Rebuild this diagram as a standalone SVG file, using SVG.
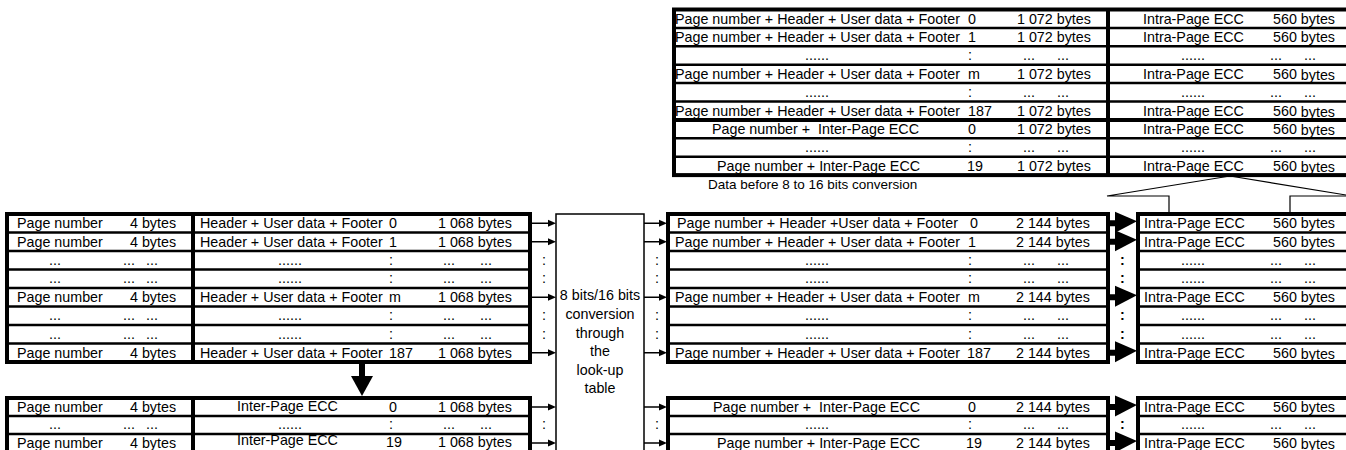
<svg xmlns="http://www.w3.org/2000/svg" width="1346" height="450" viewBox="0 0 1346 450">
<style>
text{font-family:"Liberation Sans",Arial,sans-serif;font-size:14.3px;fill:#000}
.c{text-anchor:middle}
.b{font-weight:bold}
.bd{fill:none;stroke:#000;stroke-width:4}
.sp{stroke:#000;stroke-width:2.5}
.tk{stroke:#000;stroke-width:4}
.ln{stroke:#000;stroke-width:1.5;fill:none}
.ah{fill:#000}
</style>
<rect width="1346" height="450" fill="#fff"/>

<!-- Top table -->
<g id="top-table">
<rect class="bd" x="674" y="9.5" width="676" height="165.6"/>
<line class="tk" x1="1108" y1="9.5" x2="1108" y2="175.1"/>
<line class="sp" x1="674" y1="27.9" x2="1346" y2="27.9"/>
<line class="sp" x1="674" y1="46.3" x2="1346" y2="46.3"/>
<line class="sp" x1="674" y1="64.7" x2="1346" y2="64.7"/>
<line class="sp" x1="674" y1="83.1" x2="1346" y2="83.1"/>
<line class="sp" x1="674" y1="101.5" x2="1346" y2="101.5"/>
<line class="tk" x1="674" y1="119.9" x2="1346" y2="119.9"/>
<line class="sp" x1="674" y1="138.3" x2="1346" y2="138.3"/>
<line class="sp" x1="674" y1="156.7" x2="1346" y2="156.7"/>
<text x="675" y="23.5">Page number + Header + User data + Footer</text><text x="968" y="23.5">0</text><text x="1017" y="23.5">1 072 bytes</text><text x="1143" y="23.5">Intra-Page ECC</text><text x="1273" y="23.5">560 bytes</text>
<text x="675" y="41.9">Page number + Header + User data + Footer</text><text x="968" y="41.9">1</text><text x="1017" y="41.9">1 072 bytes</text><text x="1143" y="41.9">Intra-Page ECC</text><text x="1273" y="41.9">560 bytes</text>
<text class="c" x="817" y="59.5">......</text><text x="968" y="59.5">:</text><text x="1023" y="59.5">...</text><text x="1057" y="59.5">...</text><text class="c" x="1193" y="59.5">......</text><text x="1270" y="59.5">...</text><text x="1304" y="59.5">...</text>
<text x="675" y="78.7">Page number + Header + User data + Footer</text><text x="968" y="78.7">m</text><text x="1017" y="78.7">1 072 bytes</text><text x="1143" y="78.7">Intra-Page ECC</text><text x="1273" y="78.7">560 <tspan dy="1">bytes</tspan></text>
<text class="c" x="817" y="96.5">......</text><text x="968" y="96.5">:</text><text x="1023" y="96.5">...</text><text x="1057" y="96.5">...</text><text class="c" x="1193" y="96.5">......</text><text x="1270" y="96.5">...</text><text x="1304" y="96.5">...</text>
<text x="675" y="115.5">Page number + Header + User data + Footer</text><text x="968" y="115.5">187</text><text x="1017" y="115.5">1 072 bytes</text><text x="1143" y="115.5">Intra-Page ECC</text><text x="1273" y="115.5">560 <tspan dy="1">bytes</tspan></text>
<text x="712" y="133.9" xml:space="preserve">Page number +  Inter-Page ECC</text><text x="968" y="133.9">0</text><text x="1017" y="133.9">1 072 bytes</text><text x="1143" y="133.9">Intra-Page ECC</text><text x="1273" y="133.9">560 <tspan dy="1">bytes</tspan></text>
<text class="c" x="817" y="151.7">......</text><text x="968" y="151.7">:</text><text x="1023" y="151.7">...</text><text x="1057" y="151.7">...</text><text class="c" x="1193" y="151.7">......</text><text x="1270" y="151.7">...</text><text x="1304" y="151.7">...</text>
<text x="717" y="170.7">Page number + Inter-Page ECC</text><text x="967" y="170.7">19</text><text x="1017" y="170.7">1 072 bytes</text><text x="1143" y="170.7">Intra-Page ECC</text><text x="1273" y="170.7">560 <tspan dy="1">bytes</tspan></text>
</g>

<g id="caption">
<text x="708" y="189" style="font-size:13.5px">Data before 8 to 16 bits conversion</text>
</g>

<!-- Left table -->
<g id="left-table">
<rect class="bd" x="7" y="214" width="523" height="148"/>
<line class="tk" x1="193" y1="214" x2="193" y2="362"/>
<line class="sp" x1="7" y1="232.5" x2="530" y2="232.5"/>
<line class="sp" x1="7" y1="251" x2="530" y2="251"/>
<line class="sp" x1="7" y1="269.5" x2="530" y2="269.5"/>
<line class="sp" x1="7" y1="288" x2="530" y2="288"/>
<line class="sp" x1="7" y1="306.5" x2="530" y2="306.5"/>
<line class="sp" x1="7" y1="325" x2="530" y2="325"/>
<line class="sp" x1="7" y1="343.5" x2="530" y2="343.5"/>
<text x="17" y="228">Page number</text><text x="130" y="228">4 bytes</text><text x="200" y="228">Header + User data + Footer</text><text x="389" y="228">0</text><text x="438" y="228">1 068 bytes</text>
<text x="17" y="246.5">Page number</text><text x="130" y="246.5">4 bytes</text><text x="200" y="246.5">Header + User data + Footer</text><text x="389" y="246.5">1</text><text x="438" y="246.5">1 068 bytes</text>
<text class="c" x="55" y="264.5">...</text><text x="123" y="264.5">...</text><text x="146" y="264.5">...</text><text class="c" x="290" y="264.5">......</text><text x="389" y="264.5">:</text><text x="443" y="264.5">...</text><text x="480" y="264.5">...</text>
<text class="c" x="55" y="283">...</text><text x="123" y="283">...</text><text x="146" y="283">...</text><text class="c" x="290" y="283">......</text><text x="389" y="283">:</text><text x="443" y="283">...</text><text x="480" y="283">...</text>
<text x="17" y="302">Page number</text><text x="130" y="302">4 bytes</text><text x="200" y="302">Header + User data + Footer</text><text x="389" y="302">m</text><text x="438" y="302">1 068 bytes</text>
<text class="c" x="55" y="320">...</text><text x="123" y="320">...</text><text x="146" y="320">...</text><text class="c" x="290" y="320">......</text><text x="389" y="320">:</text><text x="443" y="320">...</text><text x="480" y="320">...</text>
<text class="c" x="55" y="338.5">...</text><text x="123" y="338.5">...</text><text x="146" y="338.5">...</text><text class="c" x="290" y="338.5">......</text><text x="389" y="338.5">:</text><text x="443" y="338.5">...</text><text x="480" y="338.5">...</text>
<text x="17" y="357.5">Page number</text><text x="130" y="357.5">4 bytes</text><text x="200" y="357.5">Header + User data + Footer</text><text x="389" y="357.5">187</text><text x="438" y="357.5">1 068 bytes</text>
</g>

<!-- Bottom left table -->
<g id="bottom-left-table">
<rect class="bd" x="7" y="398" width="523" height="56"/>
<line class="tk" x1="193" y1="398" x2="193" y2="452"/>
<line class="sp" x1="7" y1="416" x2="530" y2="416"/>
<line class="sp" x1="7" y1="434" x2="530" y2="434"/>
<text x="17" y="412">Page number</text><text x="130" y="412">4 bytes</text><text x="237" y="411">Inter-Page ECC</text><text x="389" y="412">0</text><text x="438" y="412">1 068 bytes</text>
<text class="c" x="55" y="429">...</text><text x="123" y="429">...</text><text x="146" y="429">...</text><text class="c" x="290" y="429">......</text><text x="389" y="429">:</text><text x="443" y="429">...</text><text x="480" y="429">...</text>
<text x="17" y="448">Page number</text><text x="130" y="448">4 bytes</text><text x="237" y="445">Inter-Page ECC</text><text x="386" y="447">19</text><text x="438" y="447">1 068 bytes</text>
</g>

<!-- Conversion box -->
<g id="conversion">
<rect class="ln" x="556" y="214" width="88" height="250"/>
<text class="c" x="600" y="300">8 bits/16 bits</text>
<text class="c" x="600" y="319">conversion</text>
<text class="c" x="600" y="337.5">through</text>
<text class="c" x="600" y="356">the</text>
<text class="c" x="600" y="374.5">look-up</text>
<text class="c" x="600" y="393">table</text>
</g>

<!-- Middle table -->
<g id="middle-table">
<rect class="bd" x="668" y="214" width="440" height="148"/>
<line class="sp" x1="668" y1="232.5" x2="1108" y2="232.5"/>
<line class="sp" x1="668" y1="251" x2="1108" y2="251"/>
<line class="sp" x1="668" y1="269.5" x2="1108" y2="269.5"/>
<line class="sp" x1="668" y1="288" x2="1108" y2="288"/>
<line class="sp" x1="668" y1="306.5" x2="1108" y2="306.5"/>
<line class="sp" x1="668" y1="325" x2="1108" y2="325"/>
<line class="sp" x1="668" y1="343.5" x2="1108" y2="343.5"/>
<text x="677" y="228">Page number + Header +User data + Footer</text><text x="970" y="228">0</text><text x="1016" y="228">2 144 bytes</text>
<text x="675" y="246.5">Page number + Header + User data + Footer</text><text x="968" y="246.5">1</text><text x="1016" y="246.5">2 144 bytes</text>
<text class="c" x="817" y="264.5">......</text><text x="968" y="264.5">:</text><text x="1023" y="264.5">...</text><text x="1057" y="264.5">...</text>
<text class="c" x="817" y="283">......</text><text x="968" y="283">:</text><text x="1023" y="283">...</text><text x="1057" y="283">...</text>
<text x="675" y="302">Page number + Header + User data + Footer</text><text x="968" y="302">m</text><text x="1016" y="302">2 144 bytes</text>
<text class="c" x="817" y="320">......</text><text x="968" y="320">:</text><text x="1023" y="320">...</text><text x="1057" y="320">...</text>
<text class="c" x="817" y="338.5">......</text><text x="968" y="338.5">:</text><text x="1023" y="338.5">...</text><text x="1057" y="338.5">...</text>
<text x="675" y="357.5">Page number + Header + User data + Footer</text><text x="967" y="357.5">187</text><text x="1016" y="357.5">2 144 bytes</text>
</g>

<!-- Bottom middle table -->
<g id="bottom-middle-table">
<rect class="bd" x="668" y="398" width="440" height="56"/>
<line class="sp" x1="668" y1="416" x2="1108" y2="416"/>
<line class="sp" x1="668" y1="434" x2="1108" y2="434"/>
<text x="713" y="412" xml:space="preserve">Page number +  Inter-Page ECC</text><text x="968" y="412">0</text><text x="1016" y="412">2 144 bytes</text>
<text class="c" x="817" y="429">......</text><text x="968" y="429">:</text><text x="1023" y="429">...</text><text x="1057" y="429">...</text>
<text x="717" y="448">Page number + Inter-Page ECC</text><text x="966" y="448">19</text><text x="1016" y="448">2 144 bytes</text>
</g>

<!-- ECC table -->
<g id="ecc-table">
<rect class="bd" x="1138" y="214" width="212" height="148"/>
<line class="sp" x1="1138" y1="232.5" x2="1346" y2="232.5"/>
<line class="sp" x1="1138" y1="251" x2="1346" y2="251"/>
<line class="sp" x1="1138" y1="269.5" x2="1346" y2="269.5"/>
<line class="sp" x1="1138" y1="288" x2="1346" y2="288"/>
<line class="sp" x1="1138" y1="306.5" x2="1346" y2="306.5"/>
<line class="sp" x1="1138" y1="325" x2="1346" y2="325"/>
<line class="sp" x1="1138" y1="343.5" x2="1346" y2="343.5"/>
<text x="1144" y="228">Intra-Page ECC</text><text x="1273" y="228">560 bytes</text>
<text x="1144" y="246.5">Intra-Page ECC</text><text x="1273" y="246.5">560 bytes</text>
<text class="c" x="1193" y="264.5">......</text><text x="1270" y="264.5">...</text><text x="1304" y="264.5">...</text>
<text class="c" x="1193" y="283">......</text><text x="1270" y="283">...</text><text x="1304" y="283">...</text>
<text x="1144" y="302">Intra-Page ECC</text><text x="1273" y="302">560 bytes</text>
<text class="c" x="1193" y="320">......</text><text x="1270" y="320">...</text><text x="1304" y="320">...</text>
<text class="c" x="1193" y="338.5">......</text><text x="1270" y="338.5">...</text><text x="1304" y="338.5">...</text>
<text x="1144" y="357.5">Intra-Page ECC</text><text x="1273" y="357.5">560 <tspan dy="1">bytes</tspan></text>
</g>

<!-- Bottom ECC table -->
<g id="bottom-ecc-table">
<rect class="bd" x="1138" y="398" width="212" height="56"/>
<line class="sp" x1="1138" y1="416" x2="1346" y2="416"/>
<line class="sp" x1="1138" y1="434" x2="1346" y2="434"/>
<text x="1144" y="412">Intra-Page ECC</text><text x="1273" y="412">560 bytes</text>
<text class="c" x="1193" y="429">......</text><text x="1270" y="429">...</text><text x="1304" y="429">...</text>
<text x="1144" y="448">Intra-Page ECC</text><text x="1273" y="448">560 <tspan dy="1">bytes</tspan></text>
</g>

<!-- Connectors -->
<g id="connectors">
<g class="ln">
<line x1="531" y1="223.25" x2="549" y2="223.25"/>
<line x1="531" y1="241.75" x2="549" y2="241.75"/>
<line x1="531" y1="297.25" x2="549" y2="297.25"/>
<line x1="531" y1="352.75" x2="549" y2="352.75"/>
<line x1="531" y1="407" x2="549" y2="407"/>
<line x1="531" y1="443" x2="549" y2="443"/>
<line x1="644" y1="223.25" x2="661" y2="223.25"/>
<line x1="644" y1="241.75" x2="661" y2="241.75"/>
<line x1="644" y1="297.25" x2="661" y2="297.25"/>
<line x1="644" y1="352.75" x2="661" y2="352.75"/>
<line x1="644" y1="407" x2="661" y2="407"/>
<line x1="644" y1="443" x2="661" y2="443"/>
</g>
<g class="ah">
<polygon points="548,219.75 556,223.25 548,226.75"/>
<polygon points="548,238.25 556,241.75 548,245.25"/>
<polygon points="548,293.75 556,297.25 548,300.75"/>
<polygon points="548,349.25 556,352.75 548,356.25"/>
<polygon points="548,403.5 556,407 548,410.5"/>
<polygon points="548,439.5 556,443 548,446.5"/>
<polygon points="659,219.75 667,223.25 659,226.75"/>
<polygon points="659,238.25 667,241.75 659,245.25"/>
<polygon points="659,293.75 667,297.25 659,300.75"/>
<polygon points="659,349.25 667,352.75 659,356.25"/>
<polygon points="659,403.5 667,407 659,410.5"/>
<polygon points="659,439.5 667,443 659,446.5"/>
</g>
<text x="542" y="264.5">:</text><text x="542" y="283">:</text><text x="542" y="320">:</text><text x="542" y="338.5">:</text><text x="542" y="429">:</text>
<text x="655" y="264.5">:</text><text x="655" y="283">:</text><text x="655" y="320">:</text><text x="655" y="338.5">:</text><text x="655" y="429">:</text>
<g class="ah">
<rect x="1108" y="220.25" width="10" height="6"/>
<polygon points="1115,211.75 1137,221.25 1115,232.75"/>
<rect x="1108" y="238.75" width="10" height="6"/>
<polygon points="1115,230.25 1137,239.75 1115,251.25"/>
<rect x="1108" y="294.25" width="10" height="6"/>
<polygon points="1115,285.75 1137,295.25 1115,306.75"/>
<rect x="1108" y="349.75" width="10" height="6"/>
<polygon points="1115,341.25 1137,350.75 1115,362.25"/>
<rect x="1108" y="404" width="10" height="6"/>
<polygon points="1115,395.5 1137,405 1115,416.5"/>
<rect x="1108" y="440" width="10" height="6"/>
<polygon points="1115,431.5 1137,441 1115,452.5"/>
</g>
<text class="b" x="1120" y="264.5">:</text><text class="b" x="1120" y="283">:</text><text class="b" x="1120" y="320">:</text><text class="b" x="1120" y="338.5">:</text><text class="b" x="1120" y="429">:</text>
<rect class="ah" x="359" y="362" width="6" height="16"/>
<polygon class="ah" points="351,376 373,376 362,396"/>
<polyline class="ln" style="stroke-width:1.2" points="1169,213 1169,196 1107,196 1230,176 1346,195"/>
<polyline class="ln" style="stroke-width:1.2" points="1290,213 1290,196 1346,196"/>
</g>
</svg>
